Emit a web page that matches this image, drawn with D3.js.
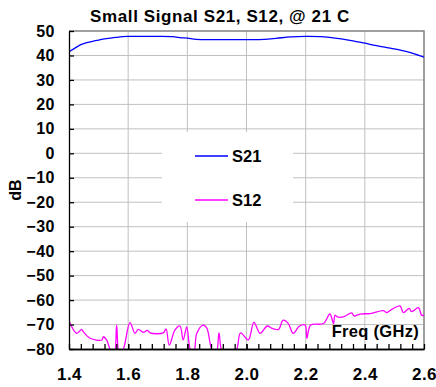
<!DOCTYPE html>
<html>
<head>
<meta charset="utf-8">
<script src="https://cdn.jsdelivr.net/npm/d3@7"></script>
<style>
  body { margin: 0; background: #fff; }
  text { font-family: "Liberation Sans", Arial, sans-serif; font-weight: bold; fill: #000; }
</style>
</head>
<body>
<svg id="canvas" width="436" height="387"></svg>
<script>
//small signal chart, S21 and S12 vs freq

var canvas = d3.select('#canvas');
var width = +canvas.attr('width');
var height = +canvas.attr('height');

var margin = { 'left': 69, 'right': 12, 'top': 31, 'bottom': 38 };

//data
var xTicks = [1.4, 1.6, 1.8, 2.0, 2.2, 2.4, 2.6];
var yTicks = [50, 40, 30, 20, 10, 0, -10, -20, -30, -40, -50, -60, -70, -80];

var s21Freq = [1.40, 1.42, 1.44, 1.46, 1.48, 1.50, 1.52, 1.54, 1.56, 1.58, 1.60, 1.65, 1.70, 1.75, 1.78, 1.80, 1.83, 1.90, 2.00, 2.06, 2.10, 2.15, 2.20, 2.25, 2.28, 2.32, 2.36, 2.40, 2.44, 2.48, 2.52, 2.56, 2.60];
var s21dB = [41.5, 43.0, 44.4, 45.2, 45.8, 46.3, 46.8, 47.1, 47.4, 47.7, 47.8, 47.8, 47.8, 47.7, 47.2, 47.1, 46.6, 46.5, 46.5, 46.6, 47.0, 47.6, 47.8, 47.7, 47.4, 46.8, 46.0, 45.0, 44.0, 43.1, 42.2, 41.0, 39.3];

var s12Freq = [1.401, 1.426, 1.443, 1.448, 1.471, 1.511, 1.516, 1.527, 1.541, 1.553, 1.561, 1.570, 1.582, 1.606, 1.623, 1.634, 1.651, 1.665, 1.674, 1.719, 1.728, 1.739, 1.758, 1.775, 1.786, 1.798, 1.811, 1.822, 1.832, 1.854, 1.866, 1.884, 1.898, 1.907, 1.920, 1.962, 1.980, 2.006, 2.025, 2.046, 2.070, 2.085, 2.108, 2.124, 2.141, 2.158, 2.179, 2.198, 2.204, 2.217, 2.260, 2.282, 2.294, 2.299, 2.307, 2.327, 2.356, 2.363, 2.384, 2.418, 2.463, 2.474, 2.491, 2.519, 2.530, 2.550, 2.558, 2.581, 2.592, 2.600];
var s12dB = [-68.8, -73.6, -72.0, -72.9, -75.6, -76.3, -75.0, -76.3, -80.5, -81.5, -70.2, -81.5, -80.5, -69.2, -73.6, -72.0, -73.2, -72.4, -73.4, -73.4, -71.8, -78.4, -72.3, -70.6, -76.3, -71.0, -80.5, -81.5, -73.6, -70.2, -71.5, -80.5, -81.5, -73.4, -81.5, -81.5, -73.4, -76.3, -69.1, -73.6, -70.6, -71.5, -72.0, -68.2, -69.5, -73.6, -70.6, -70.2, -75.6, -70.2, -69.6, -65.7, -69.6, -66.2, -66.9, -66.9, -65.2, -66.5, -65.7, -65.5, -64.3, -65.1, -63.8, -62.4, -65.1, -63.4, -64.7, -63.1, -66.2, -66.2];

var xScale = d3.scaleLinear()
  .domain([1.4, 2.6])
  .range([margin.left, width - margin.right]);

var yScale = d3.scaleLinear()
  .domain([-80, 50])
  .range([height - margin.bottom, margin.top]);

//grid lines
canvas.append('g').selectAll('line')
  .data(xTicks.slice(1, -1))
  .enter().append('line')
  .attr('x1', function(d) { return xScale(d); })
  .attr('x2', function(d) { return xScale(d); })
  .attr('y1', yScale(50))
  .attr('y2', yScale(-80))
  .style('stroke', '#c0c0c0')
  .style('stroke-width', 1);

canvas.append('g').selectAll('line')
  .data(yTicks.slice(1, -1))
  .enter().append('line')
  .attr('x1', xScale(1.4))
  .attr('x2', xScale(2.6))
  .attr('y1', function(d) { return yScale(d); })
  .attr('y2', function(d) { return yScale(d); })
  .style('stroke', '#c0c0c0')
  .style('stroke-width', 1);

//grey frame on top and right
canvas.append('path')
  .attr('d', 'M' + xScale(1.4) + ',' + yScale(50) + 'H' + xScale(2.6) + 'V' + yScale(-80))
  .style('fill', 'none')
  .style('stroke', '#808080')
  .style('stroke-width', 1.5);

//clip the traces to the plot area
canvas.append('clipPath').attr('id', 'plot')
  .append('rect')
  .attr('x', xScale(1.4))
  .attr('y', yScale(50))
  .attr('width', xScale(2.6) - xScale(1.4))
  .attr('height', yScale(-80) - yScale(50));

var line = d3.line()
  .x(function(d) { return xScale(d[0]); })
  .y(function(d) { return yScale(d[1]); })
  .curve(d3.curveCatmullRom.alpha(0.5));

canvas.append('path')
  .datum(d3.zip(s21Freq, s21dB))
  .attr('d', line)
  .attr('clip-path', 'url(#plot)')
  .style('fill', 'none')
  .style('stroke', '#0000ff')
  .style('stroke-width', 1.3);

canvas.append('path')
  .datum(d3.zip(s12Freq, s12dB))
  .attr('d', line)
  .attr('clip-path', 'url(#plot)')
  .style('fill', 'none')
  .style('stroke', '#ff00ff')
  .style('stroke-width', 1.3);

//axes, ticks point inward
var xAxis = d3.axisBottom(xScale)
  .tickValues(xTicks)
  .tickFormat(d3.format('.1f'))
  .tickSizeInner(-5)
  .tickSizeOuter(0)
  .tickPadding(19);

var xMinor = d3.axisBottom(xScale)
  .tickValues(d3.range(1.44, 2.59, 0.04))
  .tickFormat('')
  .tickSizeInner(-5)
  .tickSizeOuter(0);

var yAxis = d3.axisLeft(yScale)
  .tickValues(yTicks)
  .tickSizeInner(-5)
  .tickSizeOuter(0)
  .tickPadding(14);

canvas.append('g')
  .attr('transform', 'translate(0,' + (height - margin.bottom) + ')')
  .call(xMinor);

var gx = canvas.append('g')
  .attr('class', 'axis')
  .attr('transform', 'translate(0,' + (height - margin.bottom) + ')')
  .call(xAxis);

var gy = canvas.append('g')
  .attr('class', 'axis')
  .attr('transform', 'translate(' + margin.left + ',0)')
  .call(yAxis);

canvas.selectAll('.domain, .tick line').style('stroke', '#000').style('stroke-width', 1.3);
canvas.selectAll('.axis text')
  .style('font-family', '"Liberation Sans", Arial, sans-serif')
  .style('font-weight', 'bold')
  .style('letter-spacing', '0.5px');
gy.selectAll('text').style('font-size', '16px');
gx.selectAll('text').style('font-size', '17px');

//titles
canvas.append('text')
  .attr('x', 220)
  .attr('y', 22)
  .attr('text-anchor', 'middle')
  .style('font-size', '17px')
  .style('letter-spacing', '0.6px')
  .text('Small Signal S21, S12, @ 21 C');

canvas.append('text')
  .attr('transform', 'translate(21,' + yScale(-15) + ') rotate(-90)')
  .attr('text-anchor', 'middle')
  .style('font-size', '16px')
  .text('dB');

canvas.append('text')
  .attr('x', 419)
  .attr('y', 337)
  .attr('text-anchor', 'end')
  .style('font-size', '16.5px')
  .style('letter-spacing', '0.3px')
  .text('Freq (GHz)');

//legend
var legendNames = ['S21', 'S12'];
var legendColors = ['#0000ff', '#ff00ff'];

canvas.append('rect')
  .attr('x', 162)
  .attr('y', 132)
  .attr('width', 131)
  .attr('height', 90)
  .style('fill', '#fff');

var legend = canvas.selectAll('.legend')
  .data(legendNames)
  .enter().append('g')
  .attr('class', 'legend')
  .attr('transform', function(d, i) { return 'translate(195,' + (156 + i * 44) + ')'; });

legend.append('line')
  .attr('x1', 0).attr('x2', 33)
  .style('stroke', function(d, i) { return legendColors[i]; })
  .style('stroke-width', 1.3);

legend.append('text')
  .attr('x', 37)
  .attr('y', 5.5)
  .style('font-size', '16.5px')
  .text(function(d) { return d; });
</script>
</body>
</html>
